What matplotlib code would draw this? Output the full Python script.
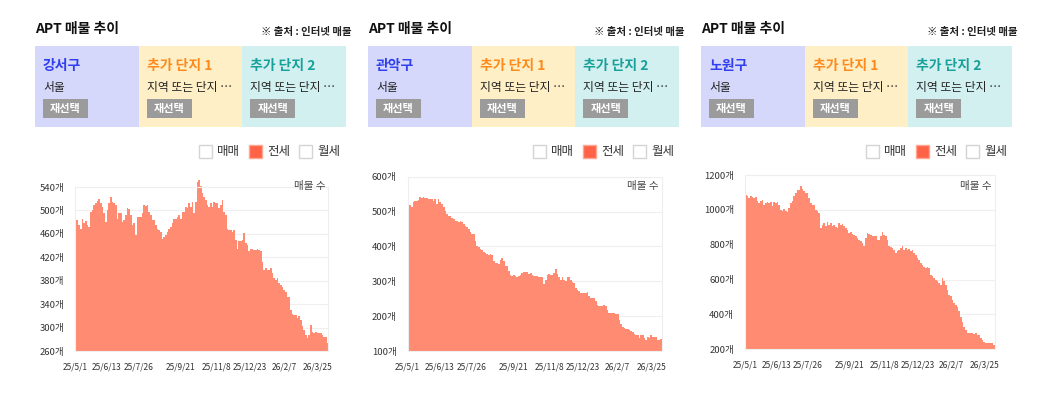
import matplotlib.pyplot as plt
import matplotlib.patches as patches
import pandas as pd

plt.rcParams['font.family'] = ['Noto Sans CJK KR', 'DejaVu Sans']

W, H = 1054, 397

# --- data ---
start_date = '2025-05-01'
end_date = '2026-04-08'
tick_dates = ['2025-05-01', '2025-06-13', '2025-07-26', '2025-09-21',
              '2025-11-08', '2025-12-23', '2026-02-07', '2026-03-25']
tick_labels = ['25/5/1', '25/6/13', '25/7/26', '25/9/21',
               '25/11/8', '25/12/23', '26/2/7', '26/3/25']

districts = ['강서구', '관악구', '노원구']
legend_items = ['매매', '전세', '월세']

gangseo = [484, 484, 475, 468, 486, 478, 482, 475, 471, 498,
           501, 509, 512, 516, 519, 512, 506, 495, 481, 501,
           512, 523, 515, 512, 509, 486, 495, 495, 481, 484,
           492, 504, 502, 492, 475, 478, 458, 489, 489, 489,
           495, 509, 508, 509, 498, 492, 484, 484, 475, 469,
           467, 464, 452, 455, 458, 464, 469, 472, 478, 485,
           485, 489, 492, 486, 498, 498, 506, 504, 512, 506,
           515, 495, 515, 549, 552, 541, 529, 523,
           518, 509, 506, 512, 506, 515, 512, 512, 504, 509,
           518, 498, 492, 469, 467, 467, 464, 467, 449, 435,
           447, 447, 449, 461, 444, 441, 430, 435, 435, 432,
           432, 435, 432, 430, 412, 398, 401, 398, 398, 401,
           393, 384, 381, 384, 376, 373, 370, 364, 361, 353,
           353, 330, 324, 321, 321, 316, 319, 313, 302, 296,
           287, 282, 287, 304, 293, 290, 293, 290, 290, 290,
           287, 284, 284, 273, 262]

gwanak = [524, 519, 512, 527, 531, 529, 534, 541, 538, 541,
          538, 540, 537, 535, 537, 529, 535, 522, 537, 527,
          522, 512, 503, 493, 488, 486, 481, 479, 472, 474,
          471, 474, 471, 464, 460, 455, 450, 442, 436, 436,
          416, 402, 397, 394, 389, 383, 380, 378, 375, 378,
          375, 359, 352, 352, 349, 361, 368, 359, 344, 343,
          330, 317, 315, 317, 314, 311, 315, 317, 324, 326,
          326, 326, 322, 324, 317, 315, 314, 315,
          313, 311, 311, 291, 305, 317, 322, 317, 317, 324,
          334, 320, 313, 305, 311, 305, 301, 311, 311, 305,
          297, 295, 281, 274, 271, 267, 267, 265, 265, 268,
          257, 252, 252, 252, 242, 233, 228, 228, 228, 233,
          228, 218, 208, 210, 208, 208, 206, 206, 189, 177,
          170, 165, 162, 162, 160, 158, 155, 150, 146, 146,
          136, 146, 146, 136, 131, 141, 136, 146, 141, 139,
          141, 131, 131, 133, 122]

nowon = [1088, 1082, 1068, 1078, 1074, 1068, 1074, 1049, 1040, 1049,
         1059, 1030, 1040, 1043, 1040, 1043, 1020, 1043, 1040, 1045,
         1030, 1001, 992, 1005, 992, 986, 1011, 1040, 1049, 1078,
         1097, 1116, 1112, 1139, 1120, 1107, 1097, 1097, 1068, 1040,
         1030, 1030, 1001, 992, 982, 896, 915, 925, 905, 928,
         915, 925, 905, 915, 902, 896, 925, 915, 921, 909,
         896, 886, 867, 871, 863, 858, 848, 838, 825, 819,
         810, 794, 838, 867, 863, 858, 852, 848,
         848, 829, 829, 848, 871, 858, 848, 829, 794, 787,
         781, 771, 752, 762, 771, 781, 790, 771, 781, 771,
         775, 762, 771, 752, 743, 723, 714, 695, 685, 675,
         666, 675, 666, 627, 618, 608, 599, 589, 580, 570,
         608, 589, 570, 541, 512, 503, 484, 465, 455, 445,
         417, 388, 359, 330, 311, 292, 296, 292, 292, 288,
         292, 282, 282, 263, 254, 244, 238, 238, 234, 238,
         234, 225, 206]

series = [gangseo, gwanak, nowon]
yticks_list = [list(range(260, 541, 40)),
               list(range(100, 601, 100)),
               list(range(200, 1201, 200))]

# --- layout in pixels ---
panels = [
    dict(box=35, top=187, bot=351, left=75, right=328.3),
    dict(box=368, top=176.7, bot=351, left=407.7, right=662),
    dict(box=701, top=175, bot=349.3, left=745, right=995),
]
box_w = 103.7
box_colors = ['#d5d8fb', '#feefc6', '#d3f0f0']
head_colors = ['#3040ee', '#ff8a1c', '#18a09a']
head_texts = [None, '추가 단지 1', '추가 단지 2']
FILL = '#ff8b72'

fig = plt.figure(figsize=(W / 100, H / 100), dpi=100)
fig.patch.set_facecolor('white')

tdates = pd.to_datetime(tick_dates)

for p, vals, yt in zip(panels, series, yticks_list):
    ax = fig.add_axes([p['left'] / W, 1 - p['bot'] / H,
                       (p['right'] - p['left']) / W, (p['bot'] - p['top']) / H])
    dates = pd.date_range(start_date, end_date, periods=len(vals))
    ax.fill_between(dates, vals, yt[0], step='post', color=FILL, lw=0,
                    clip_on=False, zorder=2)
    ax.set_xlim(dates[0], dates[-1])
    ax.set_ylim(yt[0], yt[-1])
    ax.set_yticks(yt)
    ax.set_yticklabels([f'{v}개' for v in yt])
    ax.set_xticks(tdates)
    ax.set_xticklabels(tick_labels)
    ax.tick_params(axis='y', length=0, pad=8, labelsize=6.8, labelcolor='#333333')
    ax.tick_params(axis='x', length=0, pad=8, labelsize=6, labelcolor='#333333')
    ax.yaxis.grid(True, color='#efefef', lw=0.8)
    ax.set_axisbelow(True)
    for s in ax.spines.values():
        s.set_color('#eeeeee')
        s.set_linewidth(0.8)

# overlay in pixel coordinates for header, legend, labels
ov = fig.add_axes([0, 0, 1, 1], zorder=10)
ov.set_xlim(0, W)
ov.set_ylim(H, 0)
ov.set_axis_off()
ov.patch.set_visible(False)

for p, name in zip(panels, districts):
    bx = p['box']
    ov.text(bx, 29, 'APT 매물 추이', fontsize=10, fontweight='bold',
            va='center', color='#111111')
    ov.text(bx + 3 * box_w + 6, 32, '※ 출처 : 인터넷 매물', fontsize=7.5,
            fontweight='bold', ha='right', va='center', color='#222222')
    for i in range(3):
        x0 = bx + i * box_w
        ov.add_patch(patches.Rectangle((x0, 46), box_w, 80.5, color=box_colors[i], lw=0))
        title = name if i == 0 else head_texts[i]
        sub = '서울' if i == 0 else '지역 또는 단지 …'
        ov.text(x0 + 8, 66, title, fontsize=10, fontweight='bold', va='center',
                color=head_colors[i])
        ov.text(x0 + 8, 87, sub, fontsize=8.5, va='center', color='#222222')
        ov.add_patch(patches.Rectangle((x0 + 8, 99), 45, 19, color='#9b9b9b', lw=0))
        ov.text(x0 + 30.5, 108.7, '재선택', fontsize=8, fontweight='bold',
                ha='center', va='center', color='white')

    # legend
    for j, lab in enumerate(legend_items):
        sx = p['right'] - 129 + j * 50
        if j == 1:
            ov.add_patch(patches.Rectangle((sx, 145), 13, 13, facecolor='#ff6347',
                                           edgecolor='#ffa590', lw=1))
        else:
            ov.add_patch(patches.Rectangle((sx, 145), 13, 13, facecolor='white',
                                           edgecolor='#d4d4d4', lw=1))
        ov.text(sx + 18, 152, lab, fontsize=9, va='center', color='#333333')

    ov.text(p['right'] - 3, 186.5, '매물 수', fontsize=7.6, ha='right', va='center',
            color='#444444')

fig.savefig('out.png', dpi=100, facecolor='white')
